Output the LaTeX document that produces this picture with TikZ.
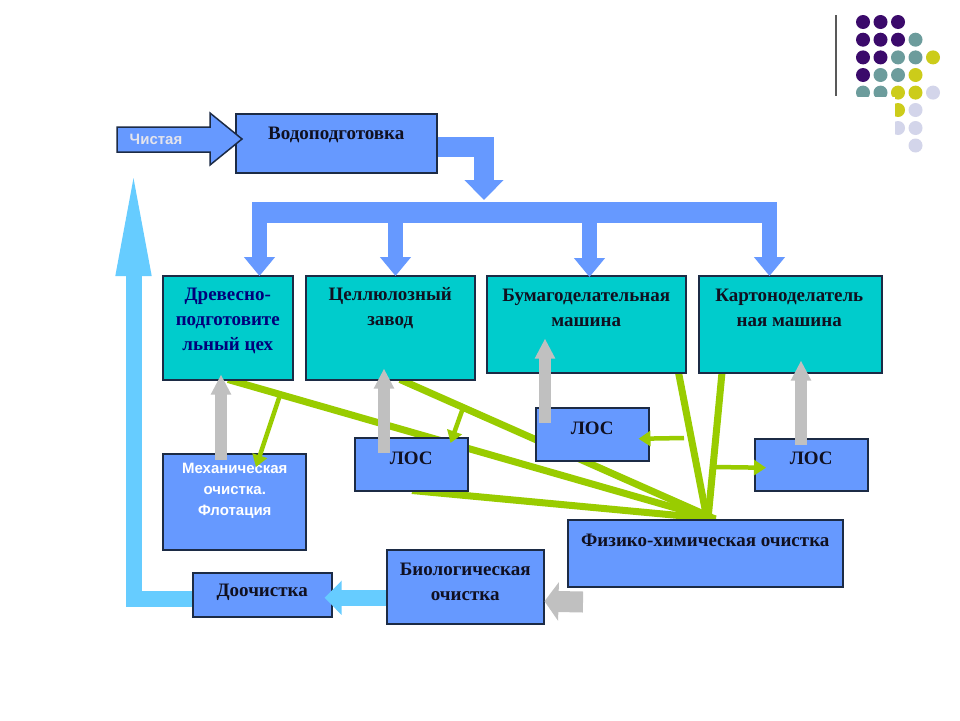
\documentclass[tikz,border=0pt]{standalone}
\usepackage{fontspec}
\setmainfont{Liberation Serif}
\setsansfont{Liberation Sans}
\usetikzlibrary{arrows.meta,calc,backgrounds}
\definecolor{boxblue}{HTML}{6699FF}
\definecolor{boxteal}{HTML}{00CCCC}
\definecolor{skyarrow}{HTML}{66CCFF}
\definecolor{grayarrow}{HTML}{C0C0C0}
\definecolor{greenline}{HTML}{99CC00}
\definecolor{edgecol}{HTML}{1C2B45}
\definecolor{navytext}{HTML}{00007A}
\definecolor{inktext}{HTML}{101020}
\definecolor{dpurple}{HTML}{3B0A6B}
\definecolor{dteal}{HTML}{6C9C9C}
\definecolor{dyellow}{HTML}{CCCC1A}
\definecolor{dlav}{HTML}{D3D5EA}
\definecolor{chisttext}{HTML}{E4E4EC}
\begin{document}
\begin{tikzpicture}[x=1pt,y=-1pt,
  boxbase/.style={rectangle, draw=edgecol, line width=1.5pt, anchor=north west, inner sep=0pt},
  bluebox/.style={boxbase, fill=boxblue},
  tealbox/.style={boxbase, fill=boxteal},
  serlabel/.style={font=\fontsize{19}{25}\selectfont\bfseries, text=inktext, align=center, inner sep=0pt},
  sanlabel/.style={font=\sffamily\fontsize{15}{21}\selectfont\bfseries, text=white, align=center, inner sep=0pt},
  greenthick/.style={draw=greenline, line width=7pt},
  greenarrow/.style={draw=greenline, line width=4.5pt, -{Triangle[width=15pt,length=12pt]}},
  grayup/.style={draw=grayarrow, line width=12pt, -{Triangle[width=19pt,length=20pt]}},
  bluedrop/.style={draw=boxblue, line width=15pt, -{Triangle[width=30pt,length=19pt]}},
  dotstyle/.style={radius=7pt}
]
\useasboundingbox (0,0) rectangle (960,720);

% decoration
\draw[draw=black!65, line width=2pt] (836,15) -- (836,96);
\foreach \cx/\cy/\cc in {
  863/22/dpurple, 880.5/22/dpurple, 898/22/dpurple,
  863/39.7/dpurple, 880.5/39.7/dpurple, 898/39.7/dpurple, 915.5/39.7/dteal,
  863/57.4/dpurple, 880.5/57.4/dpurple, 898/57.4/dteal, 915.5/57.4/dteal, 933/57.4/dyellow,
  863/75/dpurple, 880.5/75/dteal, 898/75/dteal, 915.5/75/dyellow,
  863/92.6/dteal, 880.5/92.6/dteal, 898/92.6/dyellow, 915.5/92.6/dyellow, 933/92.6/dlav,
  898/110/dyellow, 915.5/110/dlav,
  898/128/dlav, 915.5/128/dlav,
  915.5/145.5/dlav}
  \fill[\cc] (\cx,\cy) circle[dotstyle];
\fill[white] (845,96.5) rectangle (894.5,160);

% boxes
\node[bluebox, minimum width=201pt, minimum height=59pt] (water) at (235,113) {};
\node[tealbox, minimum width=130pt, minimum height=104pt] (wood) at (162,275) {};
\node[tealbox, minimum width=169pt, minimum height=104pt] (cell) at (305,275) {};
\node[tealbox, minimum width=199pt, minimum height=97pt] (paper) at (486,275) {};
\node[tealbox, minimum width=183pt, minimum height=97pt] (karton) at (698,275) {};
\node[bluebox, minimum width=143pt, minimum height=96pt] (mech) at (162,453) {};
\node[bluebox, minimum width=113pt, minimum height=53pt] (los1) at (354,437) {};
\node[bluebox, minimum width=113pt, minimum height=53pt] (los2) at (535,407) {};
\node[bluebox, minimum width=113pt, minimum height=52pt] (los3) at (754,438) {};
\node[bluebox, minimum width=275pt, minimum height=67pt] (phys) at (567,519) {};
\node[bluebox, minimum width=157pt, minimum height=74pt] (bio) at (386,549) {};
\node[bluebox, minimum width=139pt, minimum height=44pt] (doo) at (192,572) {};

% labels
\node[serlabel] (waterT) at ($(water.north)+(0,22)$) {Водоподготовка};
\node[serlabel, text=navytext] (woodT) at ($(wood.north)+(0,46)$) {Древесно-\\подготовите\\льный цех};
\node[serlabel] (cellT) at ($(cell.north)+(0,33)$) {Целлюлозный\\завод};
\node[serlabel] (paperT) at ($(paper.north)+(0,33)$) {Бумагоделательная\\машина};
\node[serlabel] (kartonT) at ($(karton.north)+(-1,33)$) {Картоноделатель\\ная машина};
\node[sanlabel] (mechT) at ($(mech.north)+(0.5,38)$) {Механическая\\очистка.\\Флотация};
\node[serlabel] (los1T) at ($(los1.north)+(0,21)$) {ЛОС};
\node[serlabel] (los2T) at ($(los2.north)+(0,21)$) {ЛОС};
\node[serlabel] (los3T) at ($(los3.north)+(0,20)$) {ЛОС};
\node[serlabel] (physT) at ($(phys.north)+(0,21)$) {Физико-химическая очистка};
\node[serlabel] (bioT) at ($(bio.north)+(0,33)$) {Биологическая\\очистка};
\node[serlabel] (dooT) at ($(doo.north)+(0,20)$) {Доочистка};

% green lines behind boxes
\begin{scope}[on background layer]
\fill[white] (0,0) rectangle (960,720);
\coordinate (hub) at (712,519);
\draw[greenthick] ($(wood.south west)+(66,-1)$) -- ($(hub)+(2,0)$);
\draw[greenthick] ($(cell.south west)+(95,-1)$) -- ($(hub)+(3,0)$);
\draw[greenthick] ($(los1.south west)+(58,-1)$) -- ($(hub)+(4,0)$);
\draw[greenthick] ($(paper.south east)+(-8,-1)$) -- ($(hub)+(-5,0)$);
\draw[greenthick] ($(karton.south west)+(24,-1)$) -- ($(hub)+(-4,0)$);
\end{scope}

% small green arrows
\coordinate (gm) at (280,395);
\coordinate (gl) at (463,408);
\coordinate (g2) at (684,438);
\coordinate (g3) at (714,467);
\draw[greenarrow] (gm) -- ($(mech.north west)+(94,14)$);
\draw[greenarrow] (gl) -- ($(los1.north east)+(-18,6)$);
\draw[greenarrow] (g2) -- ($(los2.east)+(-11,4.5)$);
\draw[greenarrow] (g3) -- ($(los3.west)+(12,3)$);

% gray arrows
\draw[grayup] ($(mech.north west)+(59,7)$) -- ($(wood.south west)+(59,-6)$);
\draw[grayup] ($(los1.north west)+(30,16)$) -- ($(cell.south west)+(79,-12)$);
\draw[grayup] ($(los2.north west)+(10,16)$) -- ($(paper.south west)+(59,-35)$);
\draw[grayup] ($(los3.north west)+(47,7)$) -- ($(karton.south west)+(103,-13)$);
\draw[draw=grayarrow, line width=21pt, -{Triangle[width=38pt,length=14pt]}]
  ($(phys.south west)+(16,14.5)$) -- ($(bio.east)+(0,14.5)$);

% light blue arrows
\draw[draw=skyarrow, line width=16pt, -{Triangle[width=33pt,length=17pt]}]
  ($(bio.west)+(0,11)$) -- ($(doo.east)+(-8,3)$);
\coordinate (chistbase) at (133.5,163);
\draw[draw=skyarrow, line width=16pt, line join=miter, -{Triangle[width=31pt,length=113pt]}]
  ($(doo.west)+(0,4.5)$) -| (chistbase);

% blue distribution arrows
\draw[draw=boxblue, line width=20pt, line join=miter, -{Triangle[width=38pt,length=20pt]}]
  ($(water.north east)+(0,33.5)$) -| (484,200);
\fill[boxblue] (252,202) rectangle (777,223);
\draw[bluedrop] (259.5,212) -- ($(wood.north west)+(97.5,1)$);
\draw[bluedrop] (395.5,212) -- ($(cell.north west)+(90.5,1)$);
\draw[bluedrop] (589.5,212) -- ($(paper.north west)+(103.5,2)$);
\draw[bluedrop] (769.5,212) -- ($(karton.north west)+(71.5,1)$);

% Чистая arrow
\draw[fill=boxblue, draw=edgecol, line width=1.5pt, line join=miter]
  (117,127) -- (210,127) -- (210,113) -- (242,139) -- (210,165) -- (210,152) -- (117,152) -- cycle;
\node[sanlabel, text=chisttext] (chist) at (156,139) {Чистая};
\end{tikzpicture}
\end{document}
